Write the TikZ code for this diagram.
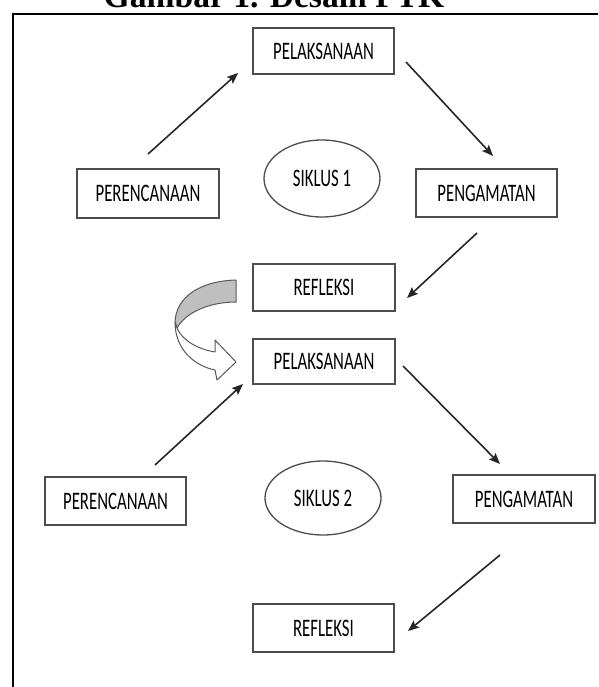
\documentclass[tikz,border=0pt]{standalone}
\usepackage{fontspec}
\usepackage{graphicx}
\setmainfont{Carlito}
\newfontfamily\titlefam{Liberation Serif}
\usetikzlibrary{arrows.meta,shapes.geometric}
\newcommand{\stx}[1]{\scalebox{1}[1.5]{#1}}
\tikzset{
  box/.style={draw=black!70, line width=1.3pt, fill=white, inner sep=0pt,
    font=\fontsize{16.8}{18}\selectfont},
  oval/.style={ellipse, draw=black!70, line width=1.3pt, inner sep=0pt,
    font=\fontsize{16.8}{18}\selectfont},
  flow/.style={line width=1.6pt, draw=black!85, -{Stealth[length=11pt,width=9pt,inset=2pt]}},
  bendarrow/.style={draw=black!65, line width=1pt, line join=round}
}
\begin{document}
\begin{tikzpicture}[x=1pt,y=-1pt]
\useasboundingbox (0,0) rectangle (598,687);
% title (cropped at top)
\node[anchor=base, font=\titlefam\bfseries\fontsize{33.6}{38}\selectfont, inner sep=0pt] (title) at (274,8) {Gambar 1. Desain PTK};
% frame
\draw[line width=2.2pt] (598,14) -- (13,14) -- (13,687);
% cycle 1
\node[box, minimum width=141, minimum height=46] (p1) at (323.5,51) {\stx{PELAKSANAAN}};
\node[box, minimum width=142, minimum height=49] (r1) at (148,193.5) {\stx{PERENCANAAN}};
\node[box, minimum width=141, minimum height=48] (g1) at (486.5,193) {\stx{PENGAMATAN}};
\node[box, minimum width=142, minimum height=47] (f1) at (324,287.5) {\stx{REFLEKSI}};
\node[oval, minimum width=116, minimum height=77] (s1) at (322,178.5) {\stx{SIKLUS 1}};
% cycle 2
\node[box, minimum width=142, minimum height=45] (p2) at (324,361.5) {\stx{PELAKSANAAN}};
\node[box, minimum width=141, minimum height=48] (r2) at (115.5,501) {\stx{PERENCANAAN}};
\node[box, minimum width=142, minimum height=48] (g2) at (524,499) {\stx{PENGAMATAN}};
\node[box, minimum width=141, minimum height=48] (f2) at (323.5,628) {\stx{REFLEKSI}};
\node[oval, minimum width=116, minimum height=74] (s2) at (323,498) {\stx{SIKLUS 2}};
% arrow end points
\coordinate (a1s) at (148,154); \coordinate (a1e) at (238,73);
\coordinate (a2s) at (406,62);  \coordinate (a2e) at (493,156);
\coordinate (a3s) at (477,233); \coordinate (a3e) at (407,298);
\coordinate (a4s) at (155,465); \coordinate (a4e) at (243,384);
\coordinate (a5s) at (403,366); \coordinate (a5e) at (500,464);
\coordinate (a6s) at (500,555); \coordinate (a6e) at (408,631);
\draw[flow] (a1s) -- (a1e);
\draw[flow] (a2s) -- (a2e);
\draw[flow] (a3s) -- (a3e);
\draw[flow] (a4s) -- (a4e);
\draw[flow] (a5s) -- (a5e);
\draw[flow] (a6s) -- (a6e);
% curved block arrow from REFLEKSI to PELAKSANAAN
\draw[bendarrow, fill=black!25] (236,280) .. controls (200,281) and (176,297) .. (175,322)
  -- (177,328) .. controls (186,312) and (210,302) .. (236,302) -- cycle;
\draw[bendarrow, fill=white] (175,322) .. controls (175,350) and (195,366) .. (215,370)
  -- (217,380) -- (236,362) -- (215,340) -- (215,352)
  .. controls (197,349) and (182,340) .. (177,328) -- cycle;
\end{tikzpicture}
\end{document}
